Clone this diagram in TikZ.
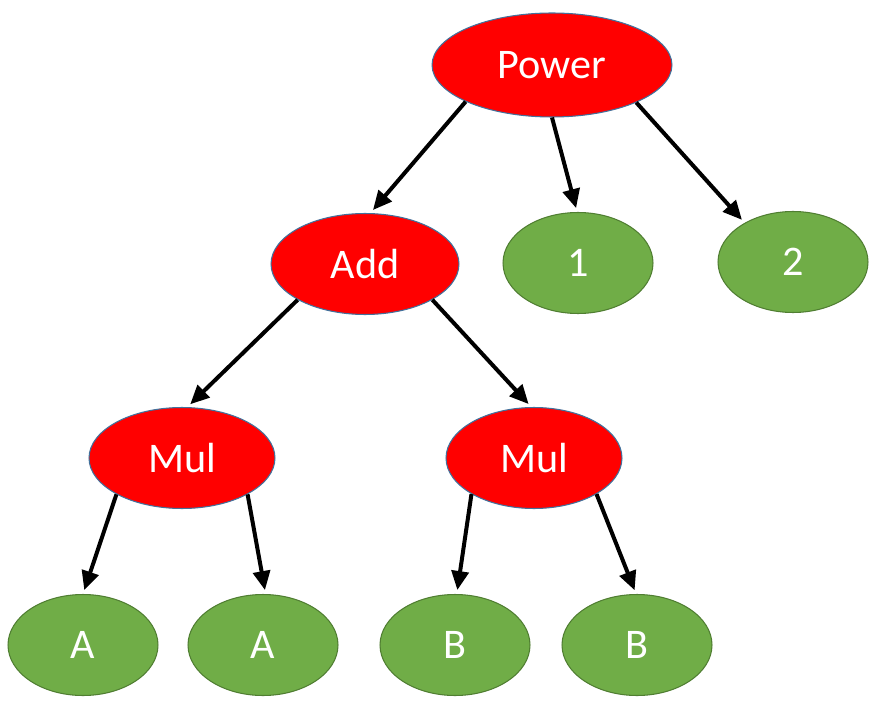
\documentclass[tikz,border=0pt]{standalone}
\usepackage{fontspec}
\setmainfont{Carlito}
\usetikzlibrary{shapes.geometric,arrows.meta}
\definecolor{opred}{HTML}{FF0000}
\definecolor{opline}{HTML}{41719C}
\definecolor{valgreen}{HTML}{70AD47}
\definecolor{valline}{HTML}{507E32}
\tikzset{
	opnode/.style={ellipse, draw=opline, fill=opred, line width=0.6pt, inner sep=0pt,
		minimum height=2.02cm, text=white, font=\fontsize{24}{28}\selectfont},
	valnode/.style={ellipse, draw=valline, fill=valgreen, line width=0.6pt, inner sep=0pt,
		minimum width=3cm, minimum height=2.02cm, text=white, font=\fontsize{24}{28}\selectfont},
	link/.style={line width=0.08cm, shorten >=0.08cm, -{Triangle[length=0.38cm, width=0.34cm]}}
}

\begin{document}
\begin{tikzpicture}[x=0.02cm, y=-0.02cm]
		%%%%% START %%%%%
		\useasboundingbox (0, 0) rectangle (885, 719);
		
		% operators
		\node[opnode, minimum width=4.8cm, minimum height=2.08cm] (power) at (552, 65) {Power};
		\node[opnode, minimum width=3.76cm] (add) at (365, 264) {Add};
		\node[opnode, minimum width=3.72cm] (mulA) at (182, 458) {Mul};
		\node[opnode, minimum width=3.52cm] (mulB) at (534, 458) {Mul};
		
		% values
		\node[valnode] (one) at (578, 263) {1};
		\node[valnode] (two) at (793, 262) {2};
		\node[valnode] (a1) at (83, 645) {A};
		\node[valnode] (a2) at (263, 645) {A};
		\node[valnode] (b1) at (455, 645) {B};
		\node[valnode] (b2) at (637, 645) {B};
		
		% edges
		\draw[link] (power.203) -- (add.84);
		\draw[link] (power.270) -- (one.91);
		\draw[link] (power.336) -- (two.141);
		
		\draw[link] (add.208) -- (mulA.84);
		\draw[link] (add.332) -- (mulB.93);
		
		\draw[link] (mulA.209) -- (a1.90);
		\draw[link] (mulA.331) -- (a2.87);
		\draw[link] (mulB.210) -- (b1.88);
		\draw[link] (mulB.330) -- (b2.91);
		
		%%%%% END %%%%%
	\end{tikzpicture}
\end{document}
